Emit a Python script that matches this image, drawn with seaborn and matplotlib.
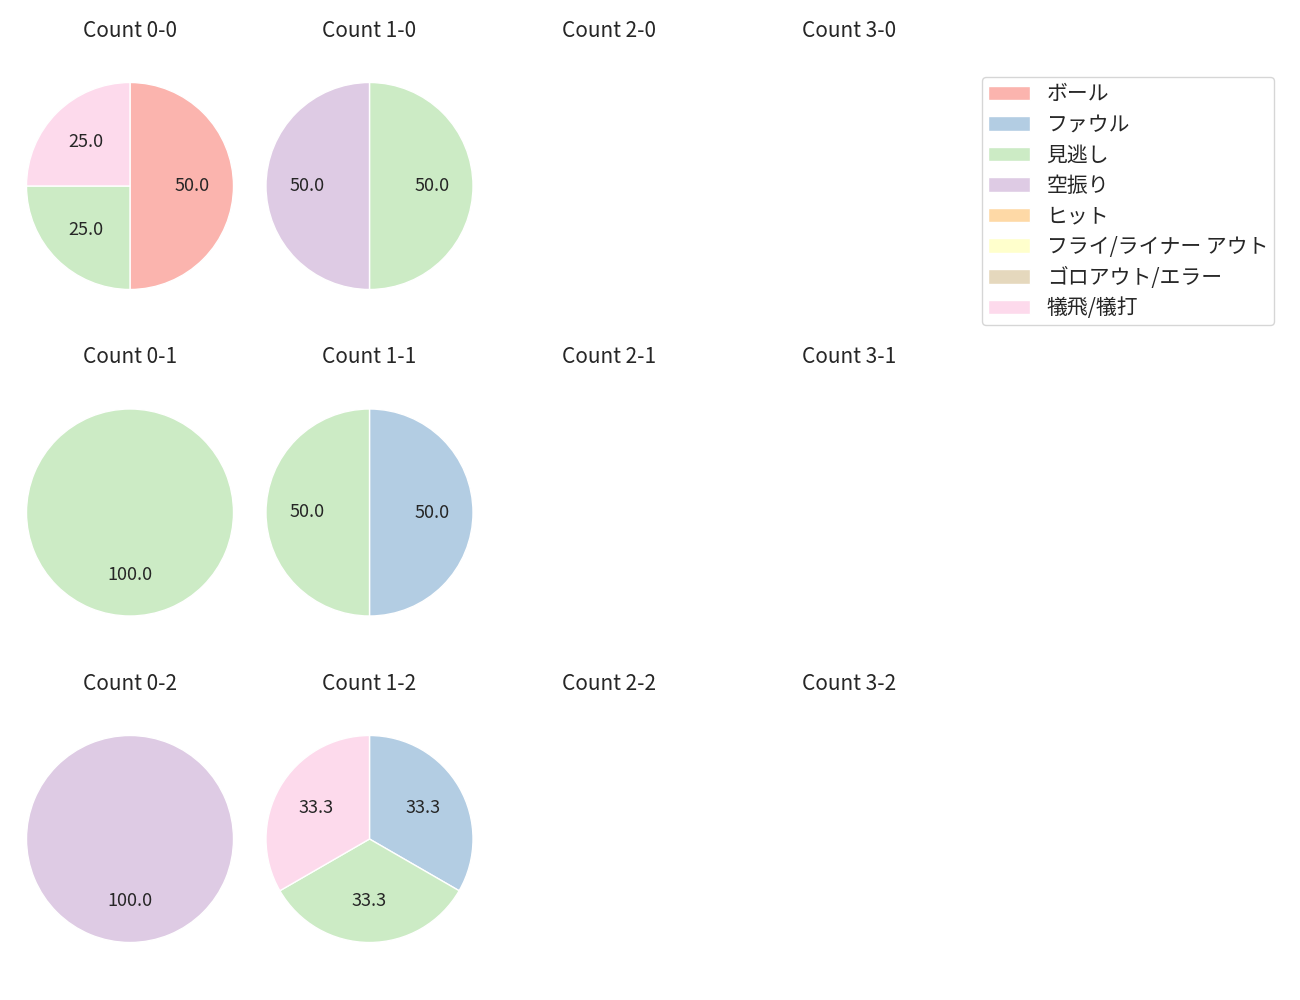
import matplotlib
matplotlib.use("Agg")
import matplotlib.pyplot as plt
import seaborn as sns
from matplotlib.patches import Patch

categories = ["ボール", "ファウル", "見逃し", "空振り", "ヒット",
              "フライ/ライナー アウト", "ゴロアウト/エラー", "犠飛/犠打"]

count_titles = [["Count 0-0", "Count 1-0", "Count 2-0", "Count 3-0"],
                ["Count 0-1", "Count 1-1", "Count 2-1", "Count 3-1"],
                ["Count 0-2", "Count 1-2", "Count 2-2", "Count 3-2"]]

# counts per category (order as categories) for each count state
c_0_0 = [2, 0, 1, 0, 0, 0, 0, 1]
c_1_0 = [0, 0, 1, 1, 0, 0, 0, 0]
c_0_1 = [0, 0, 1, 0, 0, 0, 0, 0]
c_1_1 = [0, 1, 1, 0, 0, 0, 0, 0]
c_0_2 = [0, 0, 0, 1, 0, 0, 0, 0]
c_1_2 = [0, 1, 1, 0, 0, 0, 0, 1]

data = {(0, 0): c_0_0, (0, 1): c_1_0,
        (1, 0): c_0_1, (1, 1): c_1_1,
        (2, 0): c_0_2, (2, 1): c_1_2}

sns.set_style("white")
plt.rcParams['font.family'] = ['Noto Sans CJK JP', 'DejaVu Sans']

palette = sns.color_palette("Pastel1", 8)

W, H = 1300, 1000
fig = plt.figure(figsize=(13, 10), dpi=100)

col_cx = [130, 369.5, 609, 849]
row_cy = [186, 512.5, 839]
size = 230
radius_px = 103.5
lim = (size / 2) / radius_px

for r in range(3):
    for c in range(4):
        cx, cy = col_cx[c], row_cy[r]
        ax = fig.add_axes([(cx - size / 2) / W, 1 - (cy + size / 2) / H, size / W, size / H])
        vals = data.get((r, c))
        if vals is not None:
            v = [x for x in vals if x > 0]
            cols = [palette[i] for i, x in enumerate(vals) if x > 0]
            ax.pie(v, colors=cols, startangle=90, counterclock=False,
                   autopct="%.1f", pctdistance=0.6,
                   textprops={"fontsize": 13})
            ax.set_xlim(-lim, lim)
            ax.set_ylim(-lim, lim)
            ax.set_aspect("equal")
        ax.axis("off")
        ax.set_title(count_titles[r][c], fontsize=15, pad=24.5)

handles = [Patch(facecolor=palette[i], label=categories[i]) for i in range(8)]
fig.legend(handles=handles, loc="upper left",
           bbox_to_anchor=(982 / W, 1 - 77 / H), fontsize=15,
           handlelength=2.0, labelspacing=0.41, borderpad=0.3,
           borderaxespad=0, frameon=True)

fig.savefig("out.png", dpi=100)
